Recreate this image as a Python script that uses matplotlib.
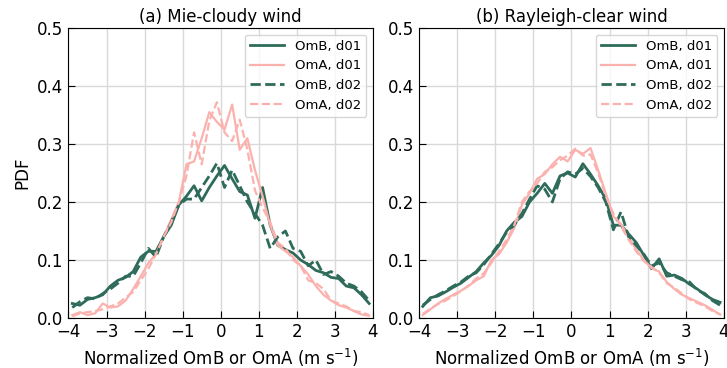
import numpy as np
import matplotlib
matplotlib.use("Agg")
import matplotlib.pyplot as plt

# bin centres of the normalized departures
x = np.arange(-3.9, 4.0, 0.2)

# (a) Mie-cloudy wind
mie_omb_d01 = [0.025, 0.022, 0.032, 0.035, 0.040, 0.055, 0.065, 0.070, 0.080, 0.105,
               0.115, 0.115, 0.140, 0.160, 0.195, 0.210, 0.228, 0.202, 0.225, 0.245,
               0.263, 0.240, 0.218, 0.212, 0.172, 0.225, 0.160, 0.125, 0.118, 0.112,
               0.100, 0.092, 0.082, 0.078, 0.070, 0.068, 0.055, 0.052, 0.040, 0.025]
mie_oma_d01 = [0.005, 0.010, 0.005, 0.008, 0.025, 0.018, 0.020, 0.030, 0.050, 0.072,
               0.095, 0.110, 0.140, 0.170, 0.200, 0.265, 0.270, 0.310, 0.355, 0.338,
               0.325, 0.368, 0.290, 0.310, 0.255, 0.210, 0.160, 0.125, 0.115, 0.105,
               0.090, 0.075, 0.055, 0.040, 0.030, 0.022, 0.018, 0.012, 0.006, 0.004]
mie_omb_d02 = [0.018, 0.028, 0.035, 0.033, 0.042, 0.050, 0.060, 0.072, 0.072, 0.095,
               0.120, 0.105, 0.140, 0.165, 0.195, 0.205, 0.205, 0.225, 0.245, 0.267,
               0.225, 0.255, 0.228, 0.200, 0.180, 0.160, 0.120, 0.140, 0.150, 0.120,
               0.115, 0.090, 0.100, 0.075, 0.080, 0.072, 0.060, 0.055, 0.045, 0.030]
mie_oma_d02 = [0.003, 0.008, 0.010, 0.012, 0.015, 0.020, 0.025, 0.035, 0.045, 0.065,
               0.085, 0.110, 0.140, 0.165, 0.200, 0.245, 0.320, 0.265, 0.340, 0.372,
               0.320, 0.305, 0.342, 0.290, 0.220, 0.190, 0.165, 0.130, 0.120, 0.100,
               0.090, 0.065, 0.060, 0.050, 0.030, 0.025, 0.020, 0.012, 0.010, 0.005]

# (b) Rayleigh-clear wind
ray_omb_d01 = [0.020, 0.035, 0.038, 0.045, 0.053, 0.060, 0.070, 0.080, 0.095, 0.108,
               0.125, 0.150, 0.165, 0.175, 0.200, 0.215, 0.232, 0.215, 0.245, 0.250,
               0.243, 0.266, 0.248, 0.228, 0.205, 0.160, 0.160, 0.145, 0.130, 0.108,
               0.085, 0.102, 0.072, 0.074, 0.068, 0.058, 0.050, 0.040, 0.032, 0.027]
ray_oma_d01 = [0.005, 0.015, 0.025, 0.033, 0.040, 0.047, 0.055, 0.065, 0.072, 0.100,
               0.110, 0.130, 0.155, 0.195, 0.215, 0.240, 0.248, 0.265, 0.278, 0.270,
               0.290, 0.283, 0.293, 0.255, 0.215, 0.175, 0.162, 0.140, 0.118, 0.100,
               0.086, 0.080, 0.062, 0.050, 0.040, 0.034, 0.028, 0.022, 0.014, 0.006]
ray_omb_d02 = [0.022, 0.032, 0.040, 0.047, 0.055, 0.062, 0.072, 0.078, 0.092, 0.110,
               0.128, 0.148, 0.160, 0.180, 0.205, 0.228, 0.222, 0.200, 0.240, 0.252,
               0.248, 0.258, 0.244, 0.225, 0.200, 0.152, 0.183, 0.140, 0.125, 0.110,
               0.090, 0.095, 0.078, 0.072, 0.066, 0.062, 0.048, 0.042, 0.030, 0.022]
ray_oma_d02 = [0.007, 0.016, 0.024, 0.030, 0.038, 0.046, 0.056, 0.068, 0.077, 0.095,
               0.115, 0.135, 0.160, 0.200, 0.218, 0.232, 0.252, 0.260, 0.272, 0.280,
               0.292, 0.280, 0.282, 0.250, 0.210, 0.180, 0.158, 0.135, 0.115, 0.098,
               0.088, 0.078, 0.060, 0.052, 0.042, 0.032, 0.026, 0.020, 0.012, 0.006]

titles = ["(a) Mie-cloudy wind", "(b) Rayleigh-clear wind"]
panels = [
    (mie_omb_d01, mie_oma_d01, mie_omb_d02, mie_oma_d02),
    (ray_omb_d01, ray_oma_d01, ray_omb_d02, ray_oma_d02),
]

green = "#2f6b5a"
pink = "#fbb1ad"

fig = plt.figure(figsize=(7.27, 3.68), dpi=100)
ax1 = fig.add_axes([0.0942, 0.1359, 0.4188, 0.788])
ax2 = fig.add_axes([0.5763, 0.1359, 0.4195, 0.788])

for ax, title, (omb1, oma1, omb2, oma2) in zip([ax1, ax2], titles, panels):
    ax.plot(x, omb1, color=green, lw=2.0, label="OmB, d01")
    ax.plot(x, oma1, color=pink, lw=1.6, label="OmA, d01")
    ax.plot(x, omb2, color=green, lw=2.0, ls="--", label="OmB, d02")
    ax.plot(x, oma2, color=pink, lw=1.6, ls="--", label="OmA, d02")
    ax.set_xlim(-4, 4)
    ax.set_ylim(0, 0.5)
    ax.set_xticks(np.arange(-4, 5, 1))
    ax.set_yticks(np.arange(0, 0.51, 0.1))
    ax.grid(True, color="#d9d9d9", lw=1.0)
    ax.tick_params(direction="in", length=5, labelsize=12)
    ax.set_title(title, fontsize=12, pad=4)
    ax.set_xlabel("Normalized OmB or OmA (m s$^{-1}$)", fontsize=12)
    ax.legend(loc="upper right", fontsize=9.5, handlelength=2.6)

ax1.set_ylabel("PDF", fontsize=12)

fig.savefig("out.png", dpi=100)
